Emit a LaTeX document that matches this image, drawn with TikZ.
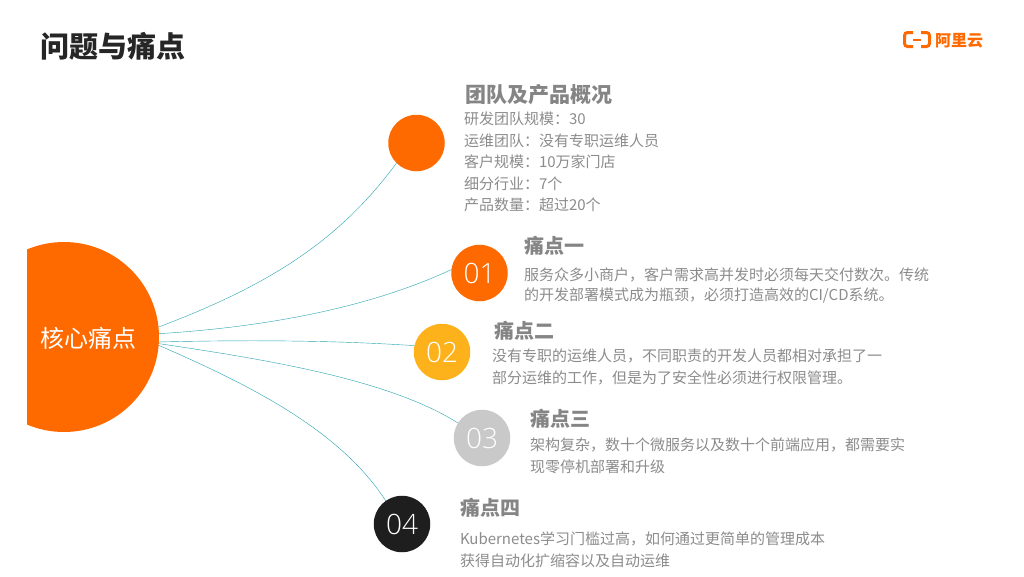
\documentclass[tikz,border=0pt]{standalone}
\usepackage{fontspec}
\setmainfont{Noto Sans CJK SC}
\newfontfamily\numfont{Open Sans Light}
\newcommand\zc{\char"FF0C\relax}
\newcommand\zm{\char"FF1A\relax}
\definecolor{aliorange}{HTML}{FF6A00}
\definecolor{aliyellow}{HTML}{FDB21C}
\definecolor{aligrey}{HTML}{C9C9C9}
\definecolor{aliblack}{HTML}{1E1E1E}
\definecolor{headgrey}{HTML}{858585}
\definecolor{bodygrey}{HTML}{8C8C8C}
\definecolor{linkteal}{HTML}{2CA6B4}
\tikzset{
  txt/.style={anchor=west,inner sep=0pt,outer sep=0pt},
  headline/.style={txt,text=headgrey,font=\fontsize{20}{24}\selectfont\bfseries},
  bodyline/.style={txt,text=bodygrey,font=\fontsize{15}{18}\selectfont},
  dot/.style={circle,minimum size=56.5pt,inner sep=0pt,outer sep=0pt,text=white,font=\fontsize{28}{32}\selectfont\numfont},
  link/.style={draw=linkteal,line width=0.42pt},
  logoline/.style={draw=aliorange,line width=3pt,rounded corners=3pt}
}
\begin{document}
\begin{tikzpicture}[x=1pt,y=-1pt]
\useasboundingbox[fill=white] (0,0) rectangle (1024,576);
\node[txt,text=black!85,font=\fontsize{29}{34}\selectfont\bfseries] (title) at (40,46) {问题与痛点};
% logo
\draw[logoline] (913,32.5) -- (904.5,32.5) -- (904.5,46.5) -- (913,46.5);
\draw[logoline] (921,32.5) -- (929.5,32.5) -- (929.5,46.5) -- (921,46.5);
\draw[draw=aliorange,line width=1.4pt] (913,40) -- (921,40);
\node[txt,text=aliorange,font=\fontsize{16}{18}\selectfont\bfseries] (logotext) at (935,40.5) {阿里云};
% core
\begin{scope}
\clip (27,230) rectangle (170,445);
\node[circle,fill=aliorange,minimum size=190pt,inner sep=0pt,outer sep=0pt] (core) at (64,337) {};
\end{scope}
\node[inner sep=0pt,text=white,font=\fontsize{24}{28}\selectfont] (corelabel) at (88,338) {核心痛点};
% dots
\node[dot,fill=aliorange] (d0) at (416.5,143) {};
\node[dot,fill=aliorange] (d1) at (479.5,273) {01};
\node[dot,fill=aliyellow] (d2) at (442,352) {02};
\node[dot,fill=aligrey] (d3) at (482,438) {03};
\node[dot,fill=aliblack] (d4) at (402,524) {04};
% connectors
\draw[link] (core.6) .. controls (270,285) and (340,240) .. (d0.225);
\draw[link] (core.2) .. controls (250,328) and (360,312) .. (d1.173);
\draw[link] (core.-3) .. controls (240,340) and (330,340) .. (d2.167);
\draw[link] (core.-4) .. controls (270,360) and (390,380) .. (d3.148);
\draw[link] (core.-5) .. controls (250,385) and (340,430) .. (d4.125);
% texts
\node[headline,font=\fontsize{21}{25}\selectfont\bfseries] (h0) at (465,95) {团队及产品概况};
\node[bodyline] (t01) at (464,119) {研发团队规模\zm 30};
\node[bodyline] (t02) at (464,141) {运维团队\zm 没有专职运维人员};
\node[bodyline] (t03) at (464,162) {客户规模\zm 10万家门店};
\node[bodyline] (t04) at (464,184) {细分行业\zm 7个};
\node[bodyline] (t05) at (464,205) {产品数量\zm 超过20个};
\node[headline] (h1) at (524,246) {痛点一};
\node[bodyline] (t11) at (524,275) {服务众多小商户\zc 客户需求高并发时必须每天交付数次。传统};
\node[bodyline] (t12) at (524,296) {的开发部署模式成为瓶颈\zc 必须打造高效的CI/CD系统。};
\node[headline] (h2) at (494,331) {痛点二};
\node[bodyline] (t21) at (492,356) {没有专职的运维人员\zc 不同职责的开发人员都相对承担了一};
\node[bodyline] (t22) at (492,378) {部分运维的工作\zc 但是为了安全性必须进行权限管理。};
\node[headline] (h3) at (530,419) {痛点三};
\node[bodyline] (t31) at (530,445) {架构复杂\zc 数十个微服务以及数十个前端应用\zc 都需要实};
\node[bodyline] (t32) at (530,467) {现零停机部署和升级};
\node[headline] (h4) at (460,508) {痛点四};
\node[bodyline] (t41) at (460,539) {Kubernetes学习门槛过高\zc 如何通过更简单的管理成本};
\node[bodyline] (t42) at (460,561) {获得自动化扩缩容以及自动运维};
\end{tikzpicture}
\end{document}
